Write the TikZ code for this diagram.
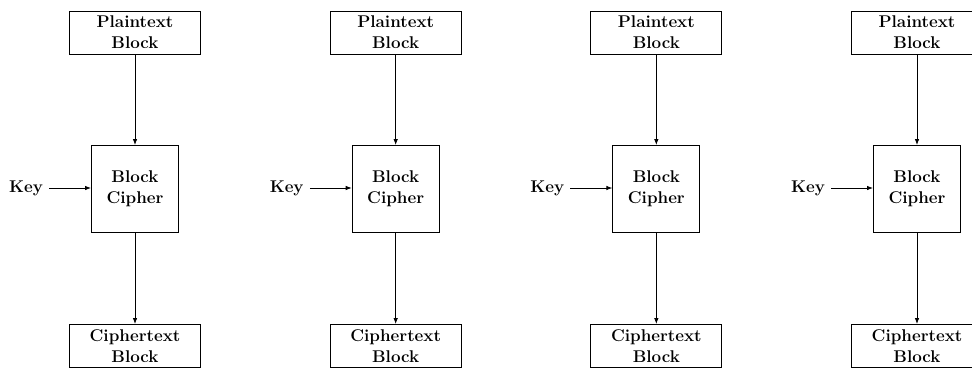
\documentclass[tikz,border=0pt]{standalone}
\usetikzlibrary{arrows.meta}
\begin{document}
\begin{tikzpicture}[x=1pt,y=-1pt,
  lbl/.style={font=\bfseries\fontsize{17}{21}\selectfont,align=center},
  wide/.style={lbl,draw,line width=0.9pt,minimum width=131pt,minimum height=43pt,inner sep=0pt},
  sq/.style={lbl,draw,line width=0.9pt,minimum width=87pt,minimum height=87pt,inner sep=0pt},
  keyl/.style={lbl,inner xsep=6pt,inner ysep=0pt},
  arr/.style={line width=0.8pt,-{Latex[length=6pt,width=4.5pt]}}]
\useasboundingbox (0,0) rectangle (972,367);
\clip (0,0) rectangle (972,367);
\foreach \i/\cx in {1/135,2/395.67,3/656.33,4/917}{
  \node[wide] (pt\i) at (\cx,32.5) {Plaintext\\Block};
  \node[sq] (bc\i) at (\cx,189) {Block\\Cipher};
  \node[wide] (ct\i) at (\cx,346) {Ciphertext\\Block};
  \node[keyl] (key\i) at (\cx-109,188) {Key};
  \draw[arr] (pt\i) -- (bc\i);
  \draw[arr] (bc\i) -- (ct\i);
  \draw[arr] (key\i.east) -- (bc\i.west |- key\i.east);
}
\end{tikzpicture}
\end{document}
